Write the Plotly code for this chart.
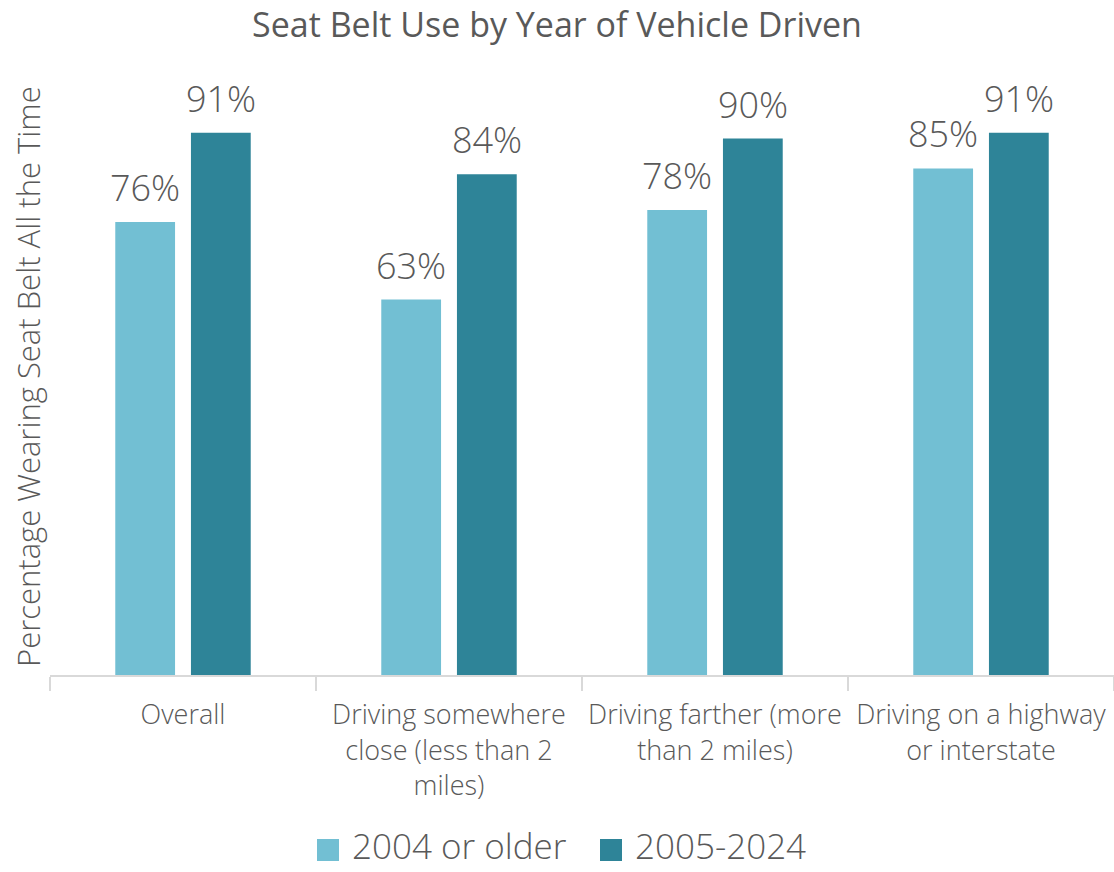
import plotly.graph_objects as go

categories = [
    "Overall",
    "Driving somewhere<br>close (less than 2<br>miles)",
    "Driving farther (more<br>than 2 miles)",
    "Driving on a highway<br>or interstate",
]
older = [76, 63, 78, 85]
newer = [91, 84, 90, 91]
series_names = ["2004 or older", "2005-2024"]
colors = ["#72BFD3", "#2E8498"]

FONT = "Open Sans"
GREY = "#595959"
W, H = 1114, 872
ML, MR, MT, MB = 50, 0, 79, 197
PW, PH = W - ML - MR, H - MT - MB


def px_x(px):
    return (px - ML) / PW


def px_y(py):
    return (H - MB - py) / PH


fig = go.Figure()
for name, vals, col in zip(series_names, [older, newer], colors):
    fig.add_trace(go.Bar(
        x=categories, y=vals, name=name,
        marker=dict(color=col, line=dict(width=0)),
        cliponaxis=False, showlegend=False,
    ))

# value labels above each bar (bars sit 38 px either side of the category centre)
for vals, shift in zip([older, newer], [-38, 38]):
    for cat, v in zip(categories, vals):
        fig.add_annotation(x=cat, y=v, text=f"{v}%", xref="x", yref="y",
                           xshift=shift, yshift=8, xanchor="center", yanchor="bottom",
                           showarrow=False,
                           font=dict(size=36, color=GREY, family=FONT, weight=300))

# legend drawn as swatches + labels below the axis
legend_items = [(317, 350), (600, 633)]
for (sx, tx), name, col in zip(legend_items, series_names, colors):
    fig.add_shape(type="rect", xref="paper", yref="paper",
                  x0=px_x(sx), x1=px_x(sx + 22), y0=px_y(861), y1=px_y(839),
                  fillcolor=col, line=dict(width=0))
    fig.add_annotation(text=name, xref="paper", yref="paper",
                       x=px_x(tx), y=px_y(871), xanchor="left", yanchor="bottom",
                       showarrow=False,
                       font=dict(size=35, color=GREY, family=FONT, weight=300))

fig.add_annotation(text="Percentage Wearing Seat Belt All the Time",
                   xref="paper", yref="paper", x=px_x(28), y=px_y(377),
                   xanchor="center", yanchor="middle", textangle=-90, showarrow=False,
                   font=dict(size=31, color=GREY, family=FONT, weight=300))

fig.update_layout(
    width=W, height=H,
    paper_bgcolor="white", plot_bgcolor="white",
    barmode="group", bargap=0.431, bargroupgap=0.21,
    title=dict(text="Seat Belt Use by Year of Vehicle Driven", x=0.5, xanchor="center",
               y=1 - 25 / H, yanchor="middle",
               font=dict(size=34, color=GREY, family=FONT)),
    margin=dict(l=ML, r=MR, t=MT, b=MB, autoexpand=False),
    font=dict(family=FONT, color=GREY),
    xaxis=dict(
        showline=True, linecolor="#D9D9D9", linewidth=2,
        ticks="outside", tickson="boundaries", ticklen=14, tickcolor="#D9D9D9", tickwidth=2,
        tickfont=dict(size=27, color=GREY, family=FONT, weight=300),
        ticklabelstandoff=15,
        range=[-0.5, 3.5], automargin=False,
    ),
    yaxis=dict(
        range=[0, 100], showticklabels=False, showgrid=False, zeroline=False,
        automargin=False,
    ),
    showlegend=False,
)

fig.write_html("out.html")
